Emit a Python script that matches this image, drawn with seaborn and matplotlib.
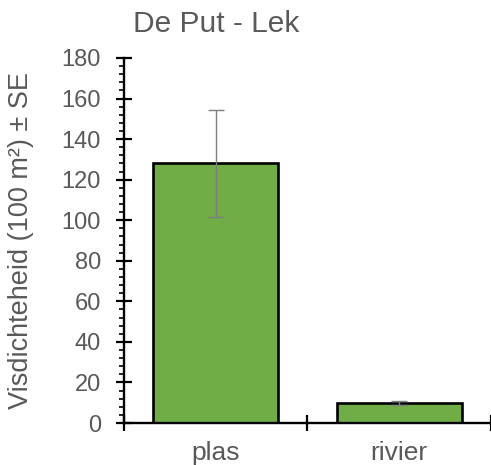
import matplotlib
matplotlib.use("Agg")
import matplotlib.pyplot as plt
from matplotlib.ticker import MultipleLocator
import seaborn as sns
import pandas as pd

# Data
categories = ["plas", "rivier"]
density = [128, 10]
se = [26.5, 1.0]
title = "De Put - Lek"
ylabel = "Visdichteheid (100 m²) ± SE"

sns.set_theme(style="white")
plt.rcParams["font.family"] = ["Liberation Sans", "DejaVu Sans"]

text_color = "#595959"
bar_color = "#70AD47"

df = pd.DataFrame({"locatie": categories, "dichtheid": density})

fig = plt.figure(figsize=(4.91, 4.65), dpi=100)
ax = fig.add_axes([0.2525, 0.0903, 0.7475, 0.785])

sns.barplot(data=df, x="locatie", y="dichtheid", color=bar_color, saturation=1,
            width=0.68, edgecolor="black", linewidth=1.9, errorbar=None, ax=ax)
ax.errorbar(range(len(categories)), density, yerr=se, fmt="none",
            ecolor="#7f7f7f", elinewidth=1.0, capsize=6, capthick=1.0, zorder=5)

ax.set_xlim(-0.5, 1.5)
ax.set_ylim(0, 180)

# Spines
for s in ["top", "right"]:
    ax.spines[s].set_visible(False)
for s in ["left", "bottom"]:
    ax.spines[s].set_color("black")
    ax.spines[s].set_linewidth(1.7)

# Y ticks
ax.yaxis.set_major_locator(MultipleLocator(20))
ax.yaxis.set_minor_locator(MultipleLocator(4))
ax.tick_params(axis="y", which="major", direction="inout", length=11, width=1.6,
               color="black", labelsize=17, labelcolor=text_color, pad=11, left=True)
ax.tick_params(axis="y", which="minor", direction="out", length=3.5, width=1.2,
               color="black", left=True)

# X ticks: boundaries as major ticks, labels on category centres
ax.set_xticks([-0.5, 0.5, 1.5])
ax.set_xticklabels(["", "", ""])
ax.set_xticks([0, 1], minor=True)
ax.set_xticklabels(categories, minor=True)
ax.tick_params(axis="x", which="major", direction="inout", length=11, width=1.6,
               color="black", bottom=True)
ax.tick_params(axis="x", which="minor", length=0, labelsize=19,
               labelcolor=text_color, pad=13)

ax.set_xlabel("")
ax.set_ylabel(ylabel, fontsize=19.5, color=text_color)
ax.yaxis.set_label_coords(-0.245, 0.5)

fig.text(0.44, 0.948, title, fontsize=21.5, color=text_color, ha="center", va="center")

fig.savefig("out.png", dpi=100)
